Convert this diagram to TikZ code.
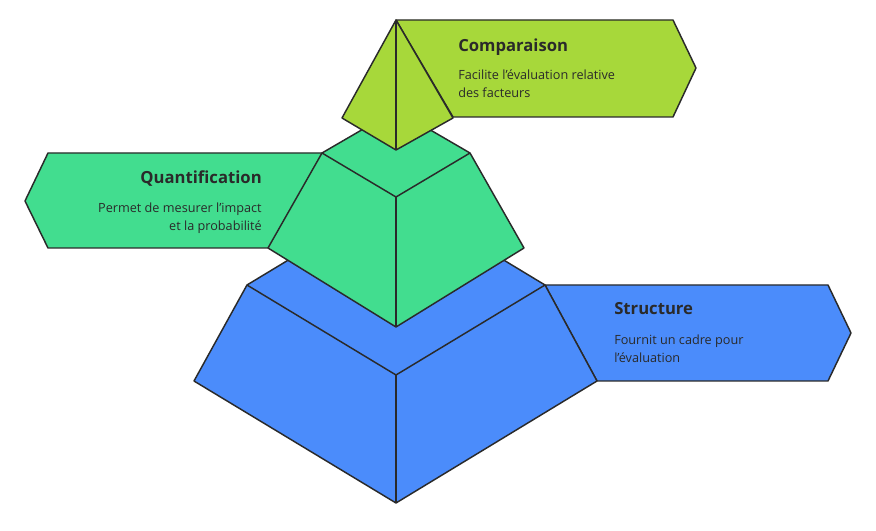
\documentclass[tikz,border=0pt]{standalone}
\usepackage{fontspec}
\setmainfont{Open Sans}
\definecolor{lime}{HTML}{A7D83A}
\definecolor{mint}{HTML}{42DD8F}
\definecolor{blu}{HTML}{4B8CFB}
\definecolor{ink}{HTML}{2A2A2A}
\begin{document}
\begin{tikzpicture}[x=0.75pt,y=-0.75pt,
  sh/.style={draw=ink,line width=1.1pt,line join=round},
  ttl/.style={font=\bfseries\fontsize{12.5}{15}\selectfont,text=ink,inner sep=0pt},
  bod/.style={font=\fontsize{9.5}{13.5}\selectfont,text=ink,inner sep=0pt,align=left}]
\useasboundingbox[fill=white] (0,0) rectangle (876,531);
% Structure box
\draw[sh,fill=blu] (545,285) -- (828,285) -- (851,333) -- (828,381) -- (597,381) -- cycle;
% blue frustum
\draw[sh,fill=blu] (247,285) -- (396,195) -- (545,285) -- (597,381) -- (396,503) -- (194,381) -- cycle;
\draw[sh] (247,285) -- (396,375) -- (545,285);
\draw[sh] (396,375) -- (396,503);
% Quantification box
\draw[sh,fill=mint] (25,201) -- (48,153) -- (322,153) -- (300,248) -- (48,248) -- cycle;
% green frustum
\draw[sh,fill=mint] (322,153) -- (396,110) -- (470,153) -- (524,248) -- (396,327) -- (268,248) -- cycle;
\draw[sh] (322,153) -- (396,197) -- (470,153);
\draw[sh] (396,197) -- (396,327);
% Comparaison box
\draw[sh,fill=lime] (396,20) -- (673,20) -- (696,68) -- (673,117) -- (453,117) -- cycle;
% pyramid
\draw[sh,fill=lime] (396,20) -- (453,118) -- (396,150) -- (342,118) -- cycle;
\draw[sh] (396,20) -- (396,150);
% texts
\node[ttl,anchor=base west] (t1) at (458,52) {Comparaison};
\node[bod,anchor=north west] (b1) at (458,70) {Facilite l'évaluation relative\\des facteurs};
\node[ttl,anchor=base east] (t2) at (262,184) {Quantification};
\node[bod,anchor=north east,align=right] (b2) at (262,203) {Permet de mesurer l'impact\\et la probabilité};
\node[ttl,anchor=base west] (t3) at (614,315) {Structure};
\node[bod,anchor=north west] (b3) at (614,335) {Fournit un cadre pour\\l'évaluation};
\end{tikzpicture}
\end{document}
